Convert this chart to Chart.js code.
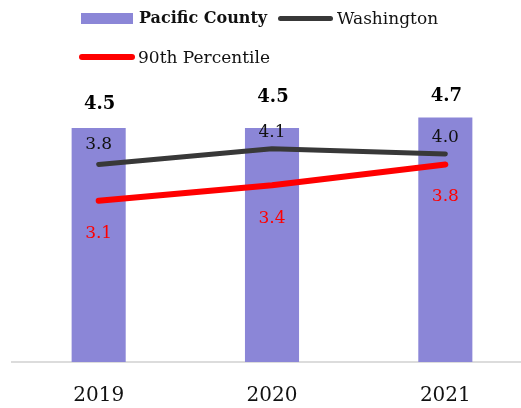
<!DOCTYPE html>
<html>
<head>
<meta charset="utf-8">
<script src="https://cdn.jsdelivr.net/npm/chart.js@4"></script>
<style>
  html, body { margin: 0; padding: 0; background: #ffffff; overflow: hidden; width: 521px; height: 408px; }
  #wrap { position: relative; width: 521px; height: 408px; overflow: hidden; }
  canvas { position: absolute; left: 0; top: 0; }
  .lg { position: absolute; font-family: "DejaVu Serif", serif; color: #111; line-height: 20px; white-space: nowrap; }
  .sw { position: absolute; }
</style>
</head>
<body>
<div id="wrap">
  <canvas id="c" width="532" height="408"></canvas>
  <div class="sw" style="left:81px; top:13px; width:52px; height:11px; background:#8B86D7;"></div>
  <div class="lg" id="lg1" style="left:139px; top:8px; font-size:16px; font-weight:bold;"></div>
  <div class="sw" style="left:278px; top:15.5px; width:55px; height:5px; border-radius:3px; background:#383838;"></div>
  <div class="lg" id="lg2" style="left:337px; top:8px; font-size:17px;"></div>
  <div class="sw" style="left:79px; top:54px; width:56px; height:6px; border-radius:3px; background:#FF0000;"></div>
  <div class="lg" id="lg3" style="left:138px; top:47px; font-size:17px;"></div>
</div>
<script>
const categories = ["2019", "2020", "2021"];
const seriesNames = ["Pacific County", "Washington", "90th Percentile"];
const pacificCounty = [4.5, 4.5, 4.7];
const washington = [3.8, 4.1, 4.0];
const percentile90 = [3.1, 3.4, 3.8];

document.getElementById('lg1').textContent = seriesNames[0];
document.getElementById('lg2').textContent = seriesNames[1];
document.getElementById('lg3').textContent = seriesNames[2];

const FONT = '"DejaVu Serif", serif';

const valueLabels = {
  id: 'valueLabels',
  afterDatasetsDraw(chart, args, opts) {
    const ctx = chart.ctx;
    chart.data.datasets.forEach((ds, di) => {
      const cfg = opts.sets[di];
      const meta = chart.getDatasetMeta(di);
      meta.data.forEach((el, i) => {
        ctx.save();
        ctx.font = cfg.font;
        ctx.fillStyle = cfg.color;
        ctx.textAlign = 'center';
        ctx.textBaseline = 'middle';
        ctx.fillText(ds.data[i].toFixed(1), el.x + (cfg.dx || 0), el.y + cfg.offsets[i]);
        ctx.restore();
      });
    });
  }
};

new Chart(document.getElementById('c'), {
  type: 'bar',
  data: {
    labels: categories,
    datasets: [
      {
        type: 'bar',
        label: seriesNames[0],
        data: pacificCounty,
        backgroundColor: '#8B86D7',
        borderWidth: 0,
        categoryPercentage: 1,
        barPercentage: 0.312,
        order: 3
      },
      {
        type: 'line',
        label: seriesNames[1],
        data: washington,
        borderColor: '#383838',
        borderWidth: 5,
        borderCapStyle: 'round',
        borderJoinStyle: 'round',
        pointRadius: 0,
        tension: 0,
        fill: false,
        order: 2
      },
      {
        type: 'line',
        label: seriesNames[2],
        data: percentile90,
        borderColor: '#FF0000',
        borderWidth: 6,
        borderCapStyle: 'round',
        borderJoinStyle: 'round',
        pointRadius: 0,
        tension: 0,
        fill: false,
        order: 1
      }
    ]
  },
  options: {
    responsive: false,
    animation: false,
    devicePixelRatio: 1,
    layout: { padding: { left: 12, right: 0, top: 50, bottom: 0 } },
    plugins: {
      legend: { display: false },
      tooltip: { enabled: false },
      valueLabels: {
        sets: [
          { font: 'bold 18px ' + FONT, color: '#000000', offsets: [-24, -31, -21], dx: 1 },
          { font: '17px ' + FONT, color: '#111111', offsets: [-20, -16, -16] },
          { font: '17px ' + FONT, color: '#FF0000', offsets: [33, 33, 32] }
        ]
      }
    },
    scales: {
      x: {
        offset: true,
        grid: { display: false, drawTicks: false },
        border: { display: true, color: '#DCDCDC', width: 2 },
        ticks: { color: '#111111', font: { family: FONT, size: 20 }, padding: 22 },
        afterFit: (s) => { s.height = 46; }
      },
      y: {
        display: false,
        min: 0,
        max: 6
      }
    }
  },
  plugins: [valueLabels]
});
</script>
</body>
</html>
